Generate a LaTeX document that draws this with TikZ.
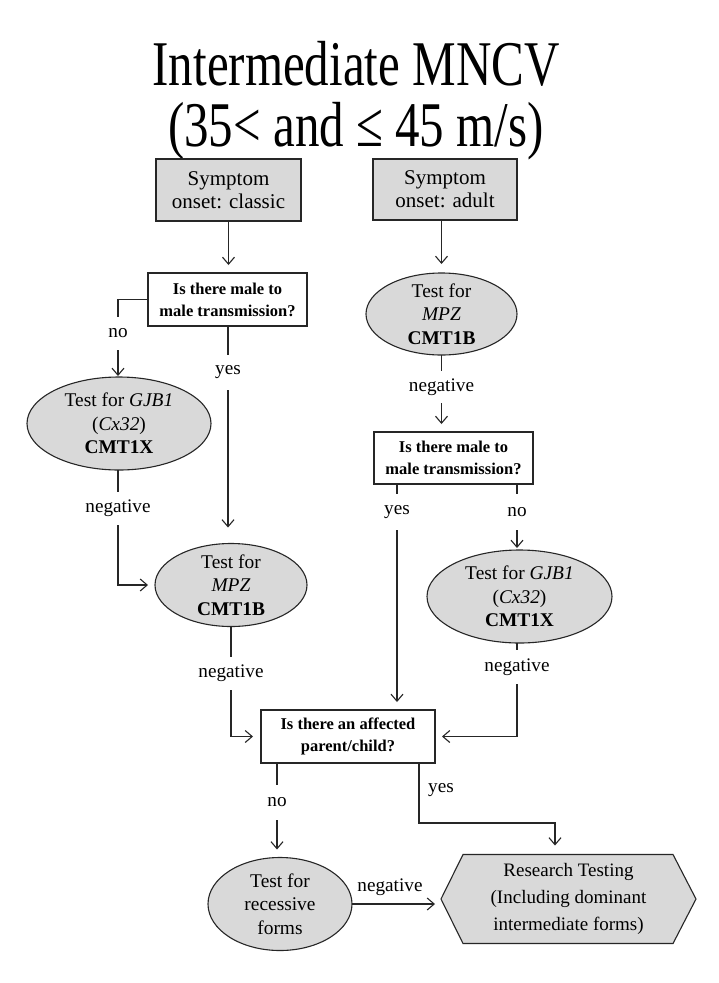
\documentclass[tikz,border=0pt]{standalone}
\usepackage{fontspec}
\setmainfont{Liberation Serif}
\usetikzlibrary{arrows.meta,shapes.geometric,backgrounds}
\definecolor{boxgray}{RGB}{217,217,217}
\begin{document}
\begin{tikzpicture}[x=1pt,y=-1pt,
  every node/.style={inner sep=0pt, outer sep=0pt},
  conn/.style={line width=1.1pt, draw=black!85},
  arr/.style={conn, -{Straight Barb[length=7pt,width=12pt]}, shorten >=8pt},
  graybox/.style={rectangle, draw=black!85, line width=1.1pt, fill=boxgray, align=center, font=\fontsize{21}{23}\selectfont},
  qbox/.style={rectangle, draw=black!85, line width=1.1pt, fill=white, align=center, font=\bfseries\fontsize{16.5}{22}\selectfont},
  testell/.style={ellipse, draw=black!85, line width=1.1pt, fill=boxgray, inner sep=-10pt, align=center, font=\fontsize{19.4}{23.5}\selectfont},
  lbl/.style={font=\fontsize{19.2}{22}\selectfont, minimum height=33pt},
  freelbl/.style={font=\fontsize{19.2}{22}\selectfont}]
\useasboundingbox (0,0) rectangle (718,983);
\begin{scope}[on background layer]
\fill[white] (0,0) rectangle (718,983);
\end{scope}

% title
\node[anchor=base, font=\fontsize{49}{43.5}\selectfont] (title) at (356,85)
  {\scalebox{1}[1.3]{\begin{tabular}[t]{@{}c@{}}Intermediate MNCV\\(35< and ≤ 45 m/s)\end{tabular}}};

% main nodes
\node[graybox, minimum width=145pt, minimum height=62pt] (b1) at (228.5,190) {Symptom\\onset: classic};
\node[graybox, minimum width=144pt, minimum height=61pt] (b2) at (445,189.5) {Symptom\\onset: adult};
\node[qbox, minimum width=159pt, minimum height=53pt] (q1) at (227.5,299.5) {Is there male to\\male transmission?};
\node[testell, minimum width=184pt, minimum height=93pt] (gL) at (119,423.5) {Test for \textit{GJB1}\\(\textit{Cx32})\\\textbf{CMT1X}};
\node[testell, minimum width=152pt, minimum height=83pt] (mL) at (231,585) {Test for\\\textit{MPZ}\\\textbf{CMT1B}};
\node[testell, minimum width=151pt, minimum height=82pt] (mR) at (441.5,314) {Test for\\\textit{MPZ}\\\textbf{CMT1B}};
\node[qbox, minimum width=159pt, minimum height=52pt] (q2) at (453.5,458) {Is there male to\\male transmission?};
\node[testell, minimum width=185pt, minimum height=93pt] (gR) at (519.5,596.5) {Test for \textit{GJB1}\\(\textit{Cx32})\\\textbf{CMT1X}};
\node[qbox, minimum width=174pt, minimum height=53pt] (q3) at (348,736.5) {Is there an affected\\parent/child?};
\node[testell, minimum width=144pt, minimum height=93pt] (rec) at (280,904) {Test for\\recessive\\forms};
\node[align=center, minimum width=255pt, minimum height=89pt, font=\fontsize{19}{27}\selectfont] (hex) at (568.5,899)
  {Research Testing\\(Including dominant\\intermediate forms)};
\begin{scope}[on background layer]
\draw[conn, fill=boxgray] (hex.west) -- ([xshift=22pt]hex.north west) -- ([xshift=-23pt]hex.north east)
  -- (hex.east) -- ([xshift=-23pt]hex.south east) -- ([xshift=22pt]hex.south west) -- cycle;
\end{scope}

% labels
\node[lbl] (noL) at (118,333.5) {no};
\node[lbl, minimum height=35pt] (yesL) at (228,372.5) {yes};
\node[lbl] (negL1) at (118,508.5) {negative};
\node[lbl] (negL2) at (231,673.5) {negative};
\node[lbl, minimum height=32pt] (negR1) at (441.5,387) {negative};
\node[lbl, minimum height=36pt] (yesR) at (397,512) {yes};
\node[lbl, minimum height=36pt] (noR) at (517,512) {no};
\node[lbl, minimum height=34pt] (negR2) at (517,667) {negative};
\node[lbl, minimum height=35pt] (noB) at (277,802.5) {no};
\node[freelbl] (yesB) at (441,790) {yes};
\node[freelbl] (negB) at (390,887) {negative};

% left column connectors
\draw[arr] (b1.south) -- (b1.south |- q1.north);
\draw[conn] (q1.west) -| (noL.north);
\draw[arr, shorten >=1pt] (noL.south) -- (noL.south |- gL.north);
\draw[conn] (q1.south -| yesL) -- (yesL.north);
\draw[arr, shorten >=16pt] (yesL.south) -- (yesL.south |- mL.north);
\draw[conn] (gL.south -| negL1) -- (negL1.north);
\draw[arr, shorten >=7pt] (negL1.south) |- (mL.west);
\draw[conn] (mL.south -| negL2) -- (negL2.north);
\draw[arr] (negL2.south) |- (q3.west);

% right column connectors
\draw[arr, shorten >=9pt] (b2.south -| mR) -- (mR.north);
\draw[conn] (mR.south) -- (negR1.north);
\draw[arr] (negR1.south) -- (negR1.south |- q2.north);
\draw[conn] (q2.south -| yesR) -- (yesR.north);
\draw[arr] (yesR.south) -- (yesR.south |- q3.north);
\draw[conn] (q2.south -| noR) -- (noR.north);
\draw[arr, shorten >=2pt] (noR.south) -- (noR.south |- gR.north);
\draw[conn] (gR.south -| negR2) -- (negR2.north);
\draw[arr, shorten >=7pt] (negR2.south) |- (q3.east);

% bottom connectors
\draw[conn] (q3.south -| noB) -- (noB.north);
\draw[arr] (noB.south) -- (noB.south |- rec.north);
\coordinate (yb) at (419,823);
\coordinate (yh) at (555,823);
\draw[arr, shorten >=9pt] (q3.south -| yb) -- (yb) -- (yh) -- (yh |- hex.north);
\draw[arr, shorten >=6pt] (rec.east) -- (rec.east -| hex.west);
\end{tikzpicture}
\end{document}
